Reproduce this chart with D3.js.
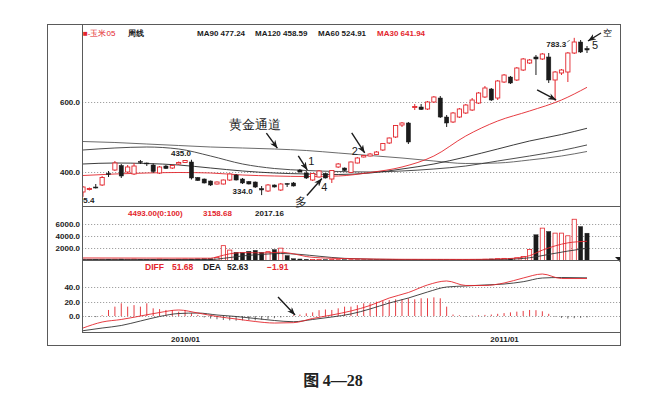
<!DOCTYPE html>
<html>
<head>
<meta charset="utf-8">
<script src="https://cdn.jsdelivr.net/npm/d3@7"></script>
<style>
  body { margin: 0; background: #fff; }
  text { font-family: "Liberation Sans", Arial, sans-serif; }
</style>
</head>
<body>
<svg id="chart" width="663" height="409"></svg>
<script>
// ---- data ----
const firstWeek = "2009-09-07";
const lastWeek = "2011-04-04";
const holidayWeeks = ["2009-10-05", "2010-02-15", "2010-10-04"];   // no trading those weeks

const opens  = [342.9,350.0,357.1,362.9,395.7,405.7,418.6,400.0,394.3,430.0,425.7,420.0,397.1,417.1,411.4,422.9,427.1,428.6,384.3,380.0,
                374.3,365.7,365.7,377.1,391.4,380.0,372.9,371.4,352.9,345.7,362.9,348.6,367.1,368.6,405.7,397.1,377.1,385.7,395.7,380.0,
                414.3,411.4,398.6,425.7,442.9,445.7,450.0,462.9,482.9,500.0,534.3,540.0,584.3,585.7,580.0,600.0,611.4,557.1,542.9,557.1,
                568.6,577.1,597.1,614.3,637.1,611.4,657.1,671.4,662.9,691.4,711.4,728.6,722.9,728.6,662.9,682.9,685.7,740.0,771.4,752.9];
const highs  = [360.0,355.7,365.7,388.6,402.9,431.4,422.9,420.0,425.7,434.3,427.1,424.3,417.1,420.0,421.4,430.0,434.3,435.0,385.7,381.4,
                375.7,372.9,378.6,395.7,394.3,382.9,374.3,372.9,360.0,365.7,364.3,368.6,368.6,371.4,408.6,402.9,397.1,405.7,397.1,405.7,
                425.7,412.9,430.0,442.9,448.6,454.3,460.0,482.9,498.6,534.3,542.9,542.9,594.3,594.3,602.9,617.1,617.1,562.9,571.4,582.9,
                594.3,611.4,628.6,645.7,640.0,662.9,680.0,674.3,700.0,725.7,722.9,734.3,740.0,740.0,688.6,694.3,742.9,783.3,777.1,760.0];
const lows   = [329.0,347.1,352.9,360.0,385.7,402.9,382.9,397.1,391.4,422.9,417.1,397.1,394.3,408.6,408.6,420.0,425.7,378.6,374.3,367.1,
                360.0,364.3,364.3,374.3,375.7,365.7,364.3,354.3,334.0,342.9,355.7,345.7,357.1,358.6,398.6,380.0,374.3,384.3,381.4,368.6,
                411.4,402.9,397.1,424.3,441.4,444.3,448.6,460.0,480.0,497.1,528.6,480.0,577.1,577.1,577.1,597.1,554.3,528.6,540.0,554.3,
                565.7,574.3,594.3,611.4,602.9,605.7,654.3,651.4,660.0,688.6,708.6,677.1,720.0,654.3,602.9,677.1,657.1,737.1,740.0,740.0];
const closes = [357.1,352.9,354.3,384.3,394.3,425.7,388.6,414.3,417.1,428.6,424.3,401.4,414.3,410.0,418.6,427.1,432.9,382.9,375.7,368.6,
                362.9,371.4,377.1,394.3,377.1,368.6,365.7,357.1,348.6,362.9,357.1,365.7,365.7,360.0,400.0,382.9,395.7,402.9,382.9,404.3,
                422.9,404.3,428.6,440.0,447.1,451.4,457.1,481.4,497.1,532.9,540.0,485.7,587.1,578.6,600.0,614.3,557.1,540.0,568.6,580.0,
                591.4,605.7,625.7,640.0,605.7,660.0,677.1,654.3,697.1,722.9,720.0,722.9,737.1,662.9,685.7,691.4,740.0,771.4,742.9,748.6];

// moving averages, read at every 5th week
const maIdx = [0, 5, 10, 15, 20, 25, 30, 35, 40, 45, 50, 55, 60, 65, 70, 75, 79];
const ma30  = [390.0,394.3,397.1,398.6,397.1,391.4,388.6,387.1,388.6,398.6,414.3,445.7,502.9,545.7,574.3,605.7,641.94];
const ma60  = [422.9,425.7,424.3,420.0,411.4,402.9,397.1,394.3,392.9,397.1,408.6,422.9,442.9,465.7,488.6,507.1,524.91];
const ma90  = [462.9,468.6,471.4,465.7,445.7,422.9,410.0,404.3,401.4,400.0,402.9,408.6,417.1,431.4,445.7,461.4,477.24];
const ma120 = [487.1,484.3,480.0,475.7,471.4,468.6,465.7,461.4,454.3,447.1,440.0,431.4,424.3,425.7,434.3,445.7,458.59];

const volumes = [200,180,180,200,220,200,240,200,220,200,180,200,220,200,180,200,220,240,260,280,300,
                 490,2440,1710,1350,1300,1510,1670,1350,1460,1790,2030,810,
                 300,250,200,180,160,150,150,140,140,130,130,120,120,120,110,110,110,100,100,100,100,110,110,120,120,130,130,140,140,
                 150,200,250,300,350,300,450,650,1800,4230,5320,4770,4500,4500,4065,6780,5580,4493];
const volMaAIdx = [0, 10, 20, 21, 23, 25, 28, 31, 33, 35, 38, 42, 50, 60, 65, 68, 70, 72, 74, 76, 79];
const volMaA    = [420,400,380,600,1100,1300,1250,1350,1100,650,400,300,200,180,250,400,800,1700,2400,2900,3158.68];
const volMaBIdx = [0, 10, 20, 22, 25, 28, 31, 34, 37, 41, 50, 60, 66, 70, 73, 76, 79];
const volMaB    = [180,170,160,350,750,1000,1150,1000,700,350,150,120,180,450,1000,1550,2017.16];

const macdIdx = [0,3,6,9,12,15,18,21,24,27,30,33,36,39,42,45,48,51,54,57,60,63,66,69,72,75,79];
const diff = [-16.6,-8.3,-4.8,0,4.8,8.3,4.1,-0.7,-4.1,-7.6,-9.7,-9.2,-3.4,1.4,6.9,14.5,24.8,32.4,42.8,48.3,42.1,42.1,45.5,52.4,57.9,51.7,51.68];
const dea  = [-20.3,-16.6,-13.1,-6.9,-0.7,3.4,4.1,1.4,-0.7,-3.4,-6.2,-7.9,-4.8,-1.4,2.8,9.7,17.9,24.8,33.1,40.0,41.4,42.8,44.1,47.3,52.4,53.1,52.63];
const macdBar = [-1.0,-1.2,-1.5,1.0,8.3,12.9,17.5,12.9,15.0,12.9,17.5,10.6,9.5,8.3,8.3,6.0,8.3,3.7,1.5,
                 -2.0,-3.5,-4.5,-5.5,-6.0,-6.5,-6.0,-5.5,-6.0,-5.0,-4.0,-3.0,-2.0,-1.0,
                 1.0,2.0,3.7,5.0,8.0,9.0,8.3,10.6,12.9,12.9,15.0,17.5,17.5,19.8,21.0,22.0,23.0,23.0,24.4,23.0,24.4,24.4,25.7,24.4,12.9,
                 2.0,1.0,-1.0,0.5,1.0,1.5,2.0,3.0,4.0,5.0,6.0,7.0,8.3,8.0,6.5,3.0,-1.0,-2.5,-3.5,-3.0,-2.5,-1.91];

const priceTicks = [400, 600];
const volTicks = [2000, 4000, 6000];
const macdTicks = [0, 20, 40];

// ---- drawing ----
const RED = "#e3262d", BLK = "#1b1b1b", GRID = "#8a8a8a", FRAME = "#5a5a5a";
const CJK = "'Noto Sans CJK SC', sans-serif";
const svg = d3.select("#chart");
const f2 = d3.format(".2f");

const parse = d3.timeParse("%Y-%m-%d");
const fmtDay = d3.timeFormat("%Y-%m-%d");
const skip = new Set(holidayWeeks);
const weeks = d3.timeMonday.range(parse(firstWeek), d3.timeDay.offset(parse(lastWeek), 1))
    .filter(d => !skip.has(fmtDay(d)));

const L = 82, R = 620;
const x = d3.scalePoint().domain(weeks).range([83, 587]);
const yP = d3.scaleLinear().domain([400, 600]).range([172, 102]);
const yV = d3.scaleLinear().domain([0, 6000]).range([260.5, 224]);
const yM = d3.scaleLinear().domain([0, 40]).range([316, 287]);
const xi = i => x(weeks[i]);

const candles = weeks.map((d, i) => ({
    d, i, o: opens[i], h: highs[i], l: lows[i], c: closes[i], up: closes[i] >= opens[i]
}));

// clip paths for the three panels
const defs = svg.append("defs");
defs.append("clipPath").attr("id", "clipMain").append("rect").attr("x", L).attr("y", 24).attr("width", R - L).attr("height", 182);
defs.append("clipPath").attr("id", "clipVol").append("rect").attr("x", L).attr("y", 206).attr("width", R - L).attr("height", 54);
defs.append("clipPath").attr("id", "clipMacd").append("rect").attr("x", L).attr("y", 260).attr("width", R - L).attr("height", 72);
defs.append("marker").attr("id", "arrow").attr("viewBox", "0 0 10 8")
    .attr("refX", 10).attr("refY", 4).attr("markerWidth", 8).attr("markerHeight", 6.5)
    .attr("markerUnits", "userSpaceOnUse").attr("orient", "auto")
    .append("path").attr("d", "M0,0 L10,4 L0,8 L3,4 Z").attr("fill", BLK);

// grid lines
function grid(ticks, y) {
    svg.append("g").selectAll("line").data(ticks).join("line")
        .attr("x1", L).attr("x2", R)
        .attr("y1", d => Math.round(y(d)) + 0.5).attr("y2", d => Math.round(y(d)) + 0.5)
        .attr("stroke", GRID).attr("stroke-width", 0.8).attr("stroke-dasharray", "1.2,1.8");
}
grid(priceTicks, yP);
grid(volTicks, yV);
grid(macdTicks, yM);

// left axes
function leftAxis(ticks, y) {
    const g = svg.append("g").attr("transform", `translate(${L},0)`)
        .call(d3.axisLeft(y).tickValues(ticks).tickFormat(d3.format(".1f")).tickSize(0).tickPadding(2));
    g.select(".domain").remove();
    g.selectAll("text").attr("font-size", 8).attr("font-weight", "bold").attr("fill", "#222")
        .attr("font-family", "'Liberation Sans', Arial, sans-serif");
}
leftAxis(priceTicks, yP);
leftAxis(volTicks, yV);
leftAxis(macdTicks, yM);

// ---- main panel: MA lines + candles ----
const gMain = svg.append("g").attr("clip-path", "url(#clipMain)");
const maLine = idx => d3.line().x((v, k) => xi(idx[k])).y(v => yP(v)).curve(d3.curveMonotoneX);
[[ma120, "#5a5a5a"], [ma90, "#3a3a3a"], [ma60, "#262626"], [ma30, RED]].forEach(([arr, col]) => {
    gMain.append("path").attr("d", maLine(maIdx)(arr))
        .attr("fill", "none").attr("stroke", col).attr("stroke-width", 0.9);
});

const bw = 4.2;
gMain.selectAll("line.wick").data(candles).join("line").attr("class", "wick")
    .attr("x1", d => xi(d.i)).attr("x2", d => xi(d.i))
    .attr("y1", d => yP(d.h)).attr("y2", d => yP(d.l))
    .attr("stroke", d => d.up ? RED : BLK).attr("stroke-width", 1);
gMain.selectAll("rect.body").data(candles).join("rect").attr("class", "body")
    .attr("x", d => xi(d.i) - bw / 2).attr("width", bw)
    .attr("y", d => yP(Math.max(d.o, d.c)))
    .attr("height", d => Math.max(0.9, Math.abs(yP(d.o) - yP(d.c))))
    .attr("fill", d => d.up ? "#fff" : BLK)
    .attr("stroke", d => d.up ? RED : BLK).attr("stroke-width", d => d.up ? 0.9 : 0.5);

// extreme price labels
const bold8 = sel => sel.attr("font-size", 8).attr("font-weight", "bold").attr("fill", "#222");
const maxI = d3.maxIndex(highs), c17 = 17, minI = d3.minIndex(lows.slice(1)) + 1;
gMain.append("text").call(bold8).attr("text-anchor", "end")
    .attr("x", xi(maxI) - 8).attr("y", yP(highs[maxI]) + 9).text(d3.format(".1f")(highs[maxI]));
gMain.append("line").attr("x1", xi(maxI) - 7).attr("y1", yP(highs[maxI]) + 4)
    .attr("x2", xi(maxI) - 4.5).attr("y2", yP(highs[maxI]) + 2.5).attr("stroke", "#444").attr("stroke-width", 0.8);
gMain.append("text").call(bold8).attr("text-anchor", "middle")
    .attr("x", xi(c17) - 10.5).attr("y", yP(highs[c17]) - 3.5).text(d3.format(".1f")(highs[c17]));
gMain.append("text").call(bold8).attr("text-anchor", "end")
    .attr("x", xi(minI) - 9).attr("y", yP(lows[minI]) - 1).text(d3.format(".1f")(lows[minI]));
gMain.append("text").call(bold8).attr("text-anchor", "end")
    .attr("x", xi(0) + 11.5).attr("y", yP(lows[0]) + 6).text("305.4");

// header
const hdr = svg.append("g").attr("font-size", 8).attr("font-weight", "bold");
hdr.append("text").attr("x", 83).attr("y", 36).attr("fill", RED).attr("font-family", CJK).attr("font-weight", "normal").text("■-玉米05");
hdr.append("text").attr("x", 128).attr("y", 36).attr("fill", BLK).attr("font-family", CJK).text("周线");
hdr.append("text").attr("x", 197).attr("y", 36).attr("fill", BLK).text(`MA90 ${f2(ma90[ma90.length - 1])}`);
hdr.append("text").attr("x", 255).attr("y", 36).attr("fill", BLK).text(`MA120 ${f2(ma120[ma120.length - 1])}`);
hdr.append("text").attr("x", 318).attr("y", 36).attr("fill", BLK).text(`MA60 ${f2(ma60[ma60.length - 1])}`);
hdr.append("text").attr("x", 377).attr("y", 36).attr("fill", RED).text(`MA30 ${f2(ma30[ma30.length - 1])}`);

// ---- volume panel ----
const gVol = svg.append("g").attr("clip-path", "url(#clipVol)");
gVol.selectAll("rect").data(candles).join("rect")
    .attr("x", d => xi(d.i) - bw / 2).attr("width", bw)
    .attr("y", d => yV(volumes[d.i])).attr("height", d => yV(0) - yV(volumes[d.i]))
    .attr("fill", d => d.up ? "#fff" : BLK)
    .attr("stroke", d => d.up ? RED : BLK).attr("stroke-width", d => d.up ? 0.8 : 0.4);
const volLine = idx => d3.line().x((v, k) => xi(idx[k])).y(v => yV(v)).curve(d3.curveMonotoneX);
gVol.append("path").attr("d", volLine(volMaBIdx)(volMaB)).attr("fill", "none").attr("stroke", "#333").attr("stroke-width", 0.9);
gVol.append("path").attr("d", volLine(volMaAIdx)(volMaA)).attr("fill", "none").attr("stroke", RED).attr("stroke-width", 0.9);

const vh = svg.append("g").attr("font-size", 8).attr("font-weight", "bold");
vh.append("text").attr("x", 128).attr("y", 216).attr("fill", RED).text(`${f2(volumes[volumes.length - 1])}(0:100)`);
vh.append("text").attr("x", 203).attr("y", 216).attr("fill", RED).text(f2(volMaA[volMaA.length - 1]));
vh.append("text").attr("x", 255).attr("y", 216).attr("fill", BLK).text(f2(volMaB[volMaB.length - 1]));
svg.append("path").attr("d", `M${R - 5},257 L${R},257 L${R},262 Z`).attr("fill", BLK);

// ---- MACD panel ----
const gMacd = svg.append("g").attr("clip-path", "url(#clipMacd)");
gMacd.selectAll("line").data(candles).join("line")
    .attr("x1", d => xi(d.i)).attr("x2", d => xi(d.i))
    .attr("y1", yM(0)).attr("y2", d => yM(macdBar[d.i]))
    .attr("stroke", d => macdBar[d.i] >= 0 ? RED : "#555").attr("stroke-width", 0.9);
const macdLine = d3.line().x((v, k) => xi(macdIdx[k])).y(v => yM(v)).curve(d3.curveMonotoneX);
gMacd.append("path").attr("d", macdLine(dea)).attr("fill", "none").attr("stroke", "#333").attr("stroke-width", 0.9);
gMacd.append("path").attr("d", macdLine(diff)).attr("fill", "none").attr("stroke", RED).attr("stroke-width", 0.9);

const mh = svg.append("g").attr("font-size", 8.5).attr("font-weight", "bold");
mh.append("text").attr("x", 145).attr("y", 270).attr("fill", RED).text("DIFF");
mh.append("text").attr("x", 172).attr("y", 270).attr("fill", RED).text(f2(diff[diff.length - 1]));
mh.append("text").attr("x", 203).attr("y", 270).attr("fill", BLK).text("DEA");
mh.append("text").attr("x", 227).attr("y", 270).attr("fill", BLK).text(f2(dea[dea.length - 1]));
mh.append("text").attr("x", 267).attr("y", 270).attr("fill", RED).text(f2(macdBar[macdBar.length - 1]));

// ---- date axis ----
const janWeeks = weeks.filter(d => d.getMonth() === 0 && d.getDate() <= 7);
const gx = svg.append("g").attr("transform", "translate(0,332)")
    .call(d3.axisBottom(x).tickValues(janWeeks).tickFormat(d3.timeFormat("%Y/%m")).tickSize(0).tickPadding(4));
gx.select(".domain").remove();
gx.selectAll("text").attr("font-size", 8).attr("font-weight", "bold").attr("fill", "#222")
    .attr("font-family", "'Liberation Sans', Arial, sans-serif");

// ---- frame ----
const fr = svg.append("g").attr("stroke", FRAME).attr("fill", "none").attr("stroke-width", 1);
fr.append("rect").attr("x", 47.5).attr("y", 24.5).attr("width", R - 47).attr("height", 321);
fr.append("line").attr("x1", L + 0.5).attr("x2", L + 0.5).attr("y1", 24).attr("y2", 332);
[206, 260, 332].forEach(y => fr.append("line").attr("x1", L).attr("x2", R).attr("y1", y + 0.5).attr("y2", y + 0.5));

// ---- annotations ----
const ann = svg.append("g");
function arrow(tx, ty, dx, dy) {
    ann.append("line").attr("x1", tx + dx).attr("y1", ty + dy).attr("x2", tx).attr("y2", ty)
        .attr("stroke", BLK).attr("stroke-width", 1.4).attr("marker-end", "url(#arrow)");
}
function note(t, px, py, size, fam) {
    ann.append("text").attr("x", px).attr("y", py).attr("text-anchor", "middle")
        .attr("font-size", size).attr("font-family", fam).attr("fill", BLK).text(t);
}
const SERIF = "'Liberation Serif', 'DejaVu Serif', serif";
// golden channel on the long average
arrow(xi(30) + 3, yP(468), -11, -15);
note("黄金通道", xi(30) - 19, yP(468) - 19, 13, CJK);
// 1
arrow(xi(35) + 1, yP(highs[35]) - 1, -9, -14);
note("1", xi(35) + 5, yP(highs[35]) - 6, 11, SERIF);
// 2
arrow(xi(44) + 1, yP(highs[44]) - 2, -13, -20);
note("2", xi(44) - 9, yP(highs[44]), 11, SERIF);
// 4 and 多
note("4", xi(38) - 1, yP(lows[38]) + 12.5, 11, SERIF);
arrow(xi(38) - 3.5, yP(lows[38]), -15, 17);
note("多", xi(38) - 24, yP(lows[38]) + 27, 12, CJK);
// 5 and 空
arrow(xi(79) + 1, yP(highs[79]) - 5, 13, -8);
note("5", xi(79) + 8, yP(highs[79]) + 3, 11, SERIF);
note("空", xi(79) + 20, yP(highs[79]) - 10.5, 9, CJK);
// pull-back onto MA30
arrow(xi(74) + 1, yP(lows[74]) - 1, -19, -10);
// MACD
arrow(xi(33) + 1.5, yM(1.4), -17, -18);

// ---- caption ----
const cap = svg.append("text").attr("x", 333).attr("y", 386).attr("text-anchor", "middle")
    .attr("font-size", 16).attr("font-weight", "bold").attr("fill", "#222");
cap.append("tspan").attr("font-family", CJK).text("图 ");
cap.append("tspan").attr("font-family", SERIF).text("4—28");
</script>
</body>
</html>
